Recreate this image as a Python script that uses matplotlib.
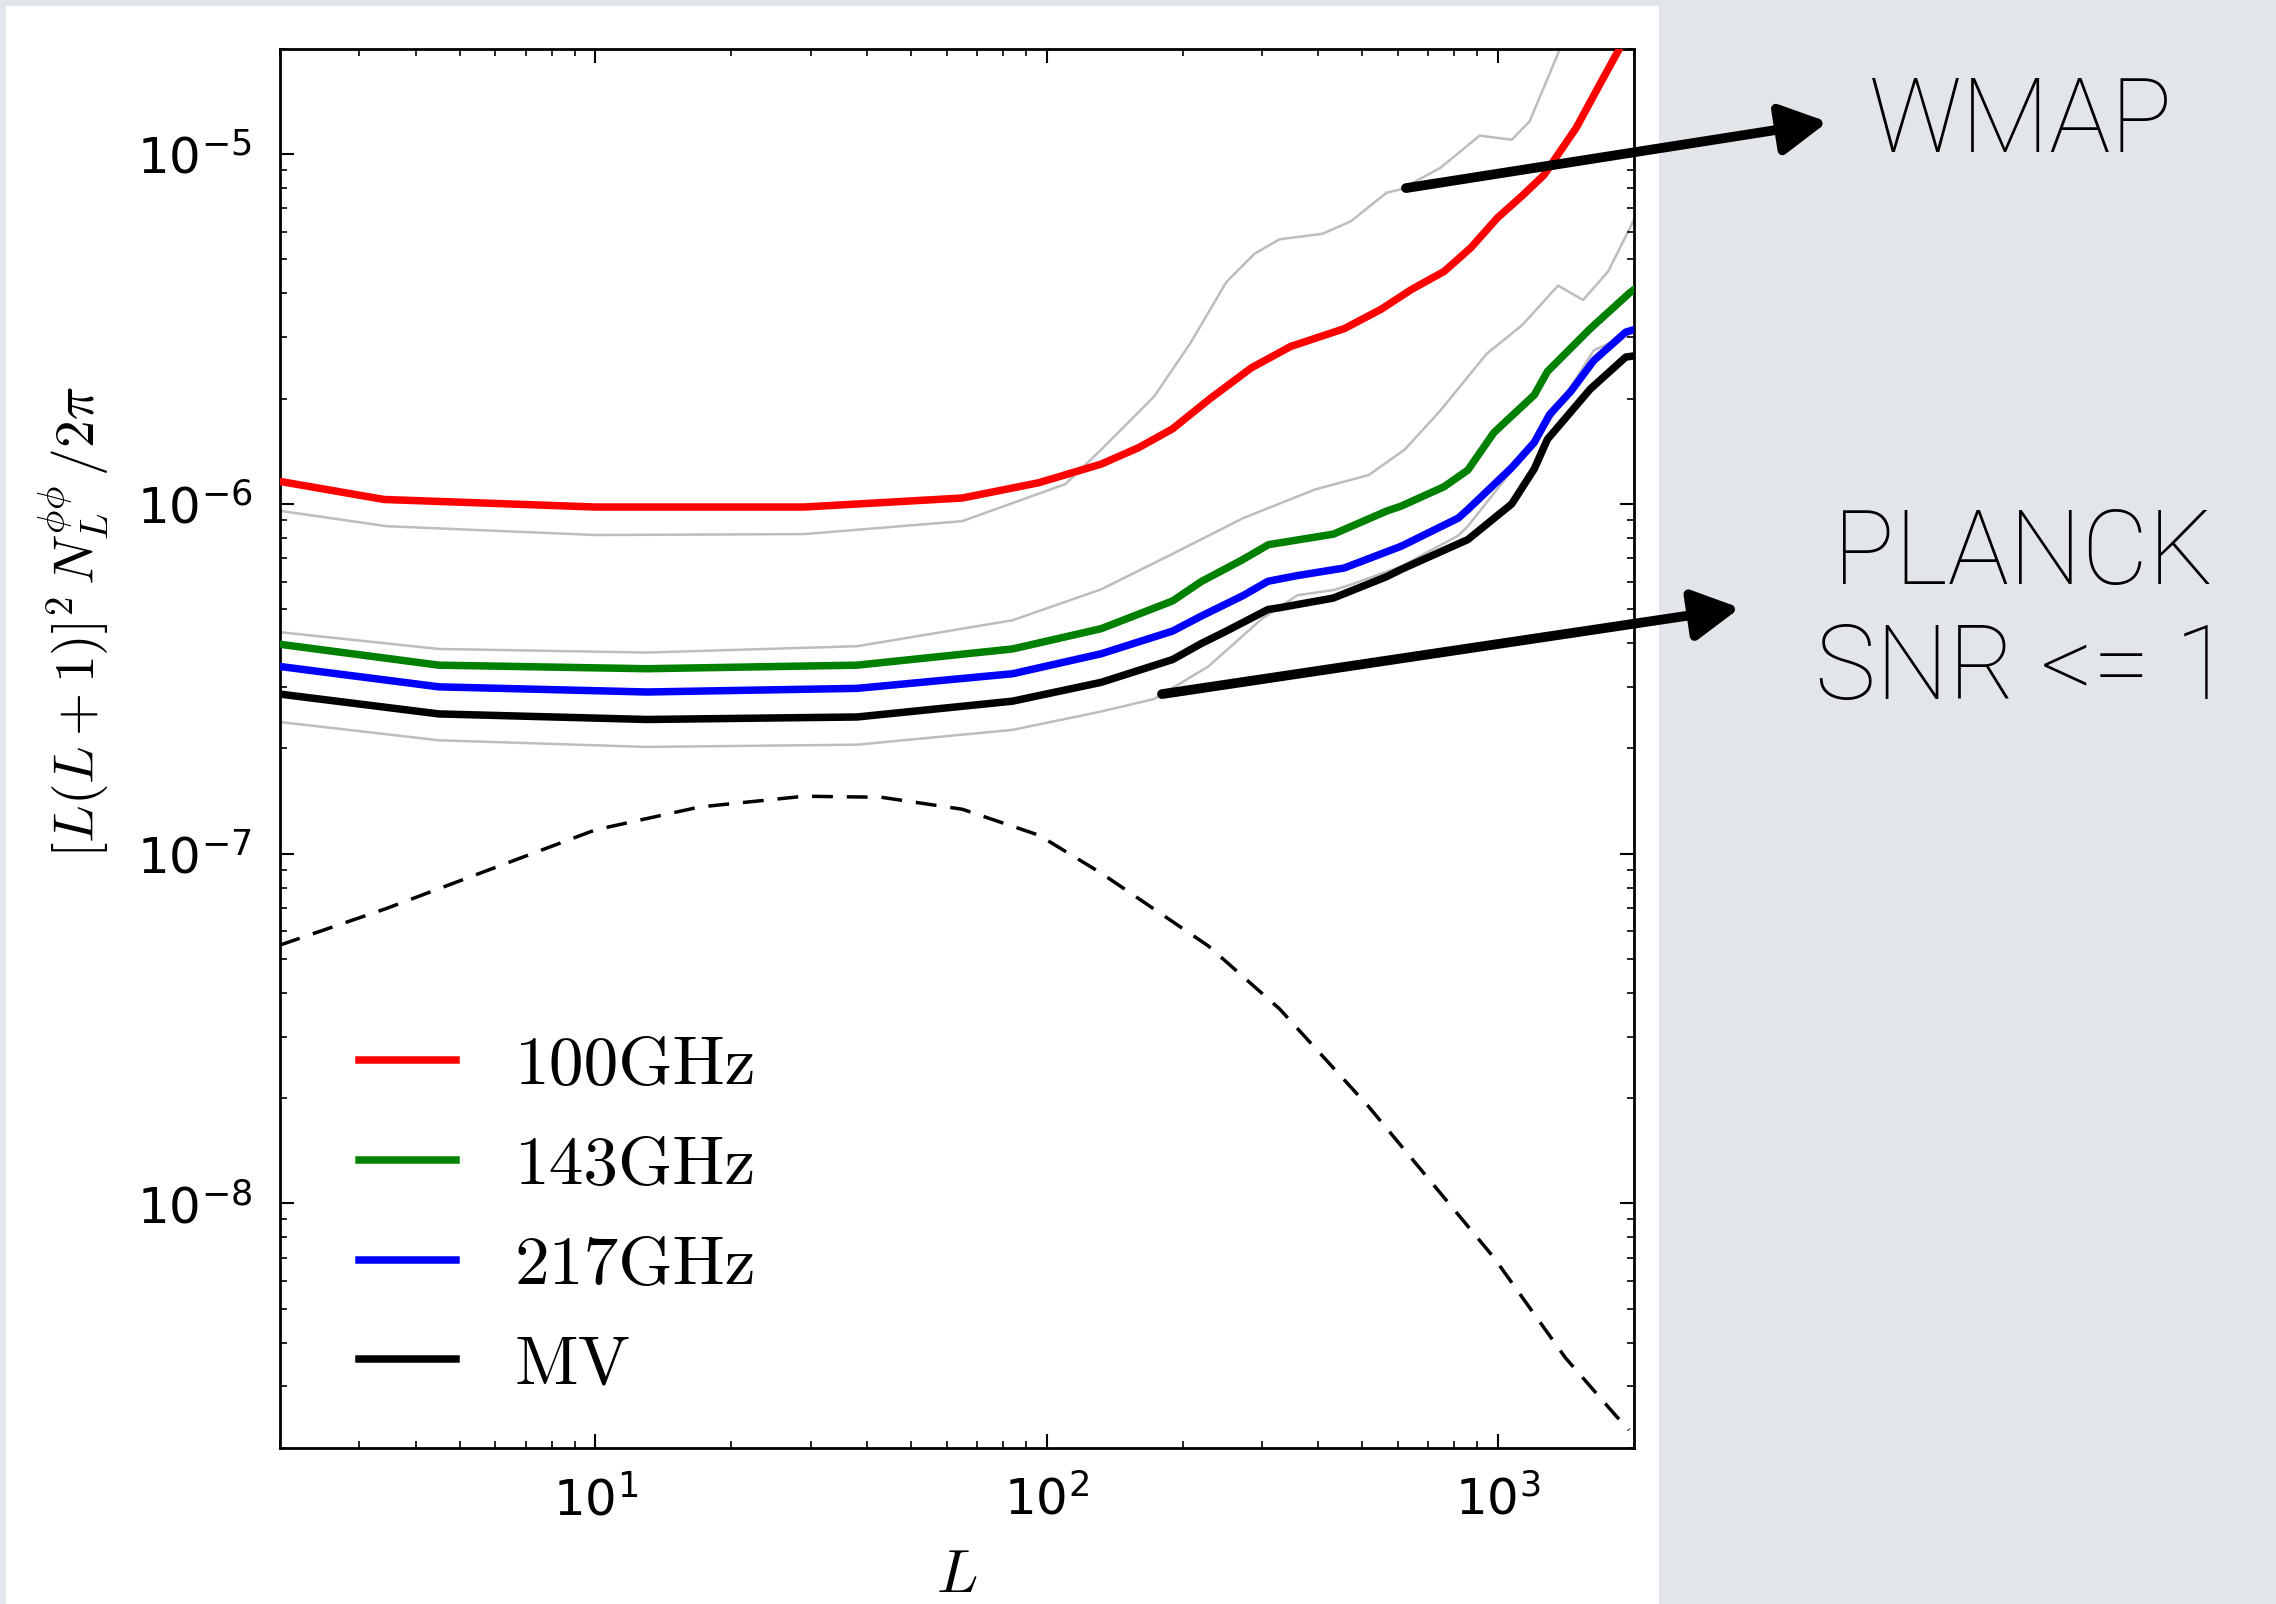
import matplotlib.pyplot as plt
from matplotlib.patches import Rectangle

# --- data (L, [L(L+1)]^2 N_L / 2pi) ---
L_red = [2, 3.4, 10, 29, 65, 96, 132, 160, 190, 230, 284, 347, 456, 550, 644, 759, 870, 997, 1130, 1264, 1490, 1692, 1852, 2000]
N_red = [1.16e-6, 1.03e-6, 0.98e-6, 0.98e-6, 1.04e-6, 1.15e-6, 1.3e-6, 1.45e-6, 1.64e-6, 2.0e-6, 2.45e-6, 2.82e-6,
         3.17e-6, 3.6e-6, 4.11e-6, 4.62e-6, 5.4e-6, 6.58e-6, 7.6e-6, 8.72e-6, 1.19e-5, 1.61e-5, 1.99e-5, 2.5e-5]

L_green = [2, 4.5, 13, 38, 84, 132, 190, 220, 270, 310, 432, 567, 610, 759, 857, 979, 1203, 1286, 1600, 1955, 2000]
N_green = [3.97e-7, 3.46e-7, 3.38e-7, 3.46e-7, 3.85e-7, 4.4e-7, 5.28e-7, 6.0e-7, 6.9e-7, 7.65e-7, 8.2e-7,
           9.55e-7, 9.86e-7, 1.12e-6, 1.25e-6, 1.6e-6, 2.05e-6, 2.39e-6, 3.17e-6, 4.01e-6, 4.1e-6]

L_blue = [2, 4.5, 13, 38, 84, 132, 190, 220, 273, 309, 359, 456, 610, 816, 857, 1072, 1203, 1300, 1450, 1629, 1918, 2000]
N_blue = [3.43e-7, 3.0e-7, 2.9e-7, 2.97e-7, 3.27e-7, 3.73e-7, 4.33e-7, 4.78e-7, 5.48e-7, 6.01e-7, 6.24e-7,
          6.56e-7, 7.57e-7, 9.11e-7, 9.64e-7, 1.27e-6, 1.5e-6, 1.8e-6, 2.1e-6, 2.57e-6, 3.1e-6, 3.15e-6]

L_mv = [2, 4.5, 13, 38, 84, 132, 190, 220, 250, 309, 328, 431, 567, 610, 857, 1072, 1203, 1286, 1600, 1918, 2000]
N_mv = [2.86e-7, 2.51e-7, 2.42e-7, 2.46e-7, 2.73e-7, 3.09e-7, 3.59e-7, 3.99e-7, 4.33e-7, 4.99e-7, 5.05e-7,
        5.38e-7, 6.2e-7, 6.5e-7, 7.91e-7, 1.0e-6, 1.26e-6, 1.53e-6, 2.13e-6, 2.63e-6, 2.65e-6]

# thin grey comparison curves
L_gray1 = [2, 3.44, 10, 29, 65, 110, 132, 173, 208, 250, 289, 328, 408, 472, 566, 609, 745, 910, 1072, 1174, 1358, 1420]
N_gray1 = [9.56e-7, 8.64e-7, 8.15e-7, 8.2e-7, 8.93e-7, 1.14e-6, 1.43e-6, 2.03e-6, 2.88e-6, 4.31e-6, 5.2e-6,
           5.71e-6, 5.92e-6, 6.43e-6, 7.76e-6, 7.94e-6, 9.14e-6, 1.13e-5, 1.1e-5, 1.24e-5, 1.94e-5, 2.3e-5]

L_gray2 = [2, 4.5, 13, 38, 84, 132, 190, 273, 393, 517, 621, 745, 944, 1132, 1358, 1543, 1753, 1938, 2000]
N_gray2 = [4.3e-7, 3.85e-7, 3.76e-7, 3.92e-7, 4.65e-7, 5.7e-7, 7.2e-7, 9.12e-7, 1.1e-6, 1.21e-6, 1.43e-6,
           1.85e-6, 2.69e-6, 3.25e-6, 4.21e-6, 3.83e-6, 4.62e-6, 5.98e-6, 6.5e-6]

L_gray3 = [2, 4.5, 13, 38, 84, 132, 173, 228, 300, 359, 434, 472, 610, 816, 857, 1203, 1310, 1358, 1629, 2000]
N_gray3 = [2.38e-7, 2.11e-7, 2.02e-7, 2.05e-7, 2.26e-7, 2.55e-7, 2.77e-7, 3.43e-7, 4.7e-7, 5.48e-7, 5.68e-7,
           5.88e-7, 6.63e-7, 8.12e-7, 8.64e-7, 1.5e-6, 1.75e-6, 1.89e-6, 2.75e-6, 3.1e-6]

# dashed theory curve
L_theory = [2, 3.44, 5.86, 10, 17, 29, 43, 65, 96, 132, 228, 328, 517, 979, 1410, 1820, 1950]
C_theory = [5.48e-8, 6.97e-8, 9.03e-8, 1.17e-7, 1.36e-7, 1.46e-7, 1.45e-7, 1.34e-7, 1.13e-7, 8.8e-8,
            5.45e-8, 3.6e-8, 1.89e-8, 7.0e-9, 3.62e-9, 2.48e-9, 2.25e-9]

labels = ['100GHz', '143GHz', '217GHz', 'MV']
colors = ['#ff0000', '#008000', '#0000ff', 'black']

fig = plt.figure(figsize=(22.76, 16.04), dpi=100)
fig.patch.set_facecolor('#e2e5e9')
# white slide panel behind the plot
fig.patches.append(Rectangle((0.0026, 0.0), 0.7264, 0.9963, transform=fig.transFigure,
                             facecolor='white', edgecolor='none', zorder=-5))

ax = fig.add_axes([0.123, 0.0973, 0.5949, 0.8722])
ax.set_zorder(2)
ax.set_xscale('log')
ax.set_yscale('log')

for Lg, Ng in [(L_gray1, N_gray1), (L_gray2, N_gray2), (L_gray3, N_gray3)]:
    ax.plot(Lg, Ng, color='0.74', lw=1.8, zorder=1)

series = [(L_red, N_red), (L_green, N_green), (L_blue, N_blue), (L_mv, N_mv)]
for (Ls, Ns), lab, col in zip(series, labels, colors):
    ax.plot(Ls, Ns, color=col, lw=5.4, label=lab, zorder=3, solid_joinstyle='round')

ax.plot(L_theory, C_theory, color='black', lw=2.5, dashes=(6, 4), zorder=2)

ax.set_xlim(2, 2000)
ax.set_ylim(2e-9, 2e-5)

for s in ax.spines.values():
    s.set_linewidth(2)
ax.tick_params(which='both', direction='in', top=True, right=True, labelsize=36)
ax.tick_params(which='major', length=10, width=1.5, pad=20)
ax.tick_params(which='minor', length=5, width=1.2)

ax.set_xlabel(r'$L$', fontsize=44, math_fontfamily='cm')
ax.xaxis.set_label_coords(0.5, -0.07)
ax.set_ylabel(r'$[L(L+1)]^2\,N_L^{\phi\phi}\,/2\pi$', fontsize=40, math_fontfamily='cm')
ax.yaxis.set_label_coords(-0.125, 0.59)

leg = ax.legend(loc='lower left', bbox_to_anchor=(0.012, -0.008), frameon=False,
                prop={'family': 'cmr10', 'size': 50}, handlelength=1.4,
                handletextpad=0.85, labelspacing=0.55)

# slide annotations
txt = dict(family=['Roboto', 'Lato'], weight='light', fontsize=74, color='black')
fig.text(0.888, 0.923, 'WMAP', ha='center', va='center', zorder=3, **txt)
fig.text(0.889, 0.618, 'PLANCK\nSNR <= 1', ha='center', va='center',
         multialignment='center', linespacing=1.2, zorder=3, **txt)

arrow = dict(arrowstyle='-|>,head_length=0.7,head_width=0.38', lw=7, color='black',
             mutation_scale=40, shrinkA=0, shrinkB=0)
ax.annotate('', xy=(0.803, 0.924), xycoords='figure fraction',
            xytext=(625, 8.0e-6), textcoords='data', arrowprops=arrow, annotation_clip=False)
ax.annotate('', xy=(0.7645, 0.621), xycoords='figure fraction',
            xytext=(180, 2.86e-7), textcoords='data', arrowprops=arrow, annotation_clip=False)

fig.savefig('out.png', dpi=100, facecolor=fig.get_facecolor())
